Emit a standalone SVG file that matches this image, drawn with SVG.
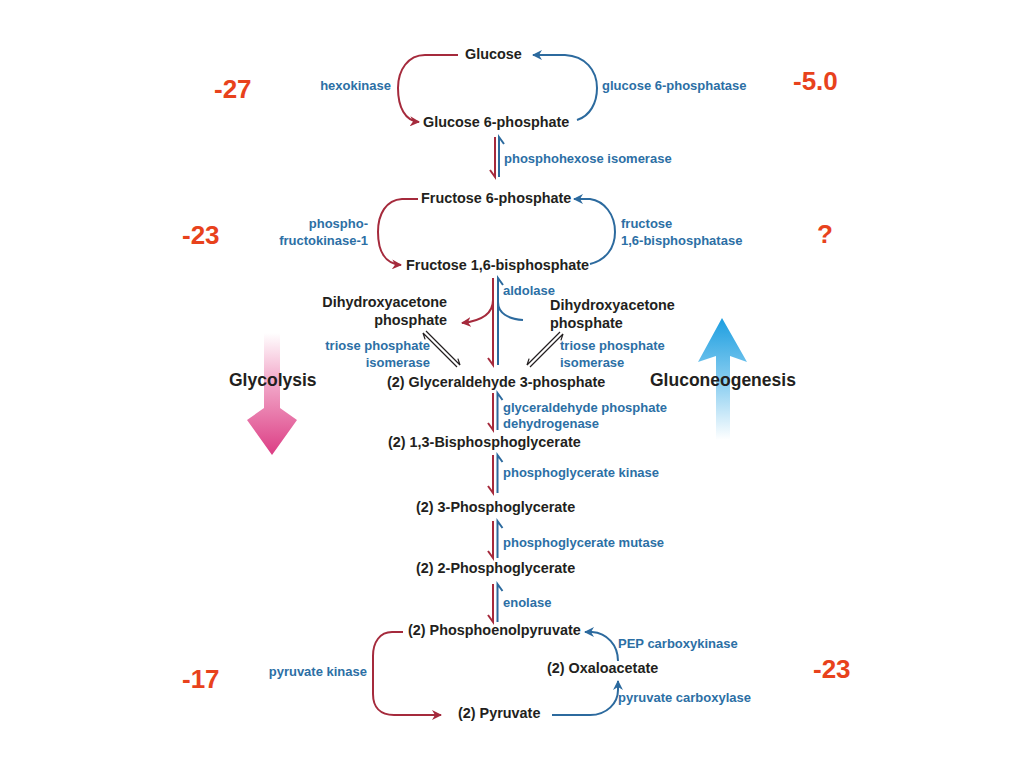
<svg xmlns="http://www.w3.org/2000/svg" width="1024" height="768" viewBox="0 0 1024 768">
<defs>
<style>
.m{font-family:"Liberation Sans",Arial,sans-serif;font-weight:bold;font-size:14.4px;fill:#231f20}
.e{font-family:"Liberation Sans",Arial,sans-serif;font-weight:bold;font-size:13px;fill:#2c6fa5}
.n{font-family:"Liberation Sans",Arial,sans-serif;font-weight:bold;font-size:26px;fill:#e8421c}
.big{font-family:"Liberation Sans",Arial,sans-serif;font-weight:bold;font-size:17.5px;fill:#231f20}
.r{fill:none;stroke:#a52a3c;stroke-width:2}
.b{fill:none;stroke:#2c6a9e;stroke-width:2}
.k{fill:none;stroke:#231f20;stroke-width:1.2}
</style>
<marker id="ar" viewBox="0 0 10 10" refX="9" refY="5" markerWidth="10" markerHeight="10" markerUnits="userSpaceOnUse" orient="auto">
<path d="M0,0 L10,5 L0,10 L3,5 z" fill="#a52a3c"/>
</marker>
<marker id="ab" viewBox="0 0 10 10" refX="9" refY="5" markerWidth="10" markerHeight="10" markerUnits="userSpaceOnUse" orient="auto">
<path d="M0,0 L10,5 L0,10 L3,5 z" fill="#2c6a9e"/>
</marker>
<linearGradient id="gp" gradientUnits="userSpaceOnUse" x1="0" y1="333" x2="0" y2="455">
<stop offset="0" stop-color="#ffffff"/>
<stop offset="0.35" stop-color="#f4b3d0"/>
<stop offset="1" stop-color="#dc3d84"/>
</linearGradient>
<linearGradient id="gb" gradientUnits="userSpaceOnUse" x1="0" y1="440" x2="0" y2="318">
<stop offset="0" stop-color="#ffffff"/>
<stop offset="0.45" stop-color="#8fd0f1"/>
<stop offset="1" stop-color="#1c9ee0"/>
</linearGradient>
</defs>
<rect width="1024" height="768" fill="#ffffff"/>

<g id="direction-arrows">
<path id="glycolysis-arrow" d="M264,333 L280,333 L280,408 L297,420 L272,455 L247,420 L264,408 Z" fill="url(#gp)"/>
<path id="gluconeogenesis-arrow" d="M716,440 L716,356 L698,362 L722,318 L747,362 L730,356 L730,440 Z" fill="url(#gb)"/>
</g>

<g id="connectors">
<!-- top loop -->
<path class="r" d="M458,55 L425,55 C408,55 398,70 398,88 C398,107 405,121 419,122" marker-end="url(#ar)"/>
<path class="b" d="M577,120 C590,116 597,103 597,88 C597,70 585,56 565,55 L533,55" marker-end="url(#ab)"/>
<!-- hexose isomerase -->
<path class="r" d="M495,137 L495,177 L490,170"/>
<path class="b" d="M499,177 L499,137 L504,144"/>
<!-- fructose loop -->
<path class="r" d="M418,199 L402,199 C386,200 378,214 378,232 C378,251 385,264 401,265" marker-end="url(#ar)"/>
<path class="b" d="M590,264 C606,260 615,248 615,232 C615,214 604,201 590,199 L574,199" marker-end="url(#ab)"/>
<!-- aldolase -->
<path class="r" d="M493,278 L493,365 L488,358"/>
<path class="b" d="M498,365 L498,278 L503,285"/>
<path class="r" d="M493,300 C493,314 481,321 462,323" marker-end="url(#ar)"/>
<path class="b" d="M498,302 C498,313 508,319 523,320"/>
<!-- triose phosphate isomerase -->
<path class="k" d="M426,331 L460,365 L457.9,358.6"/>
<path class="k" d="M457,367 L423,333 L425.1,339.4"/>
<path class="k" d="M560,332 L527,365 L529.1,358.6"/>
<path class="k" d="M530,367 L563,334 L560.9,340.4"/>
<!-- lower chain -->
<path class="r" d="M493,393 L493,430 L488,423"/>
<path class="b" d="M497.5,430 L497.5,393 L502.5,400"/>
<path class="r" d="M493,455 L493,493 L488,486"/>
<path class="b" d="M497.5,493 L497.5,455 L502.5,462"/>
<path class="r" d="M493,521 L493,558 L488,551"/>
<path class="b" d="M497.5,558 L497.5,521 L502.5,528"/>
<path class="r" d="M493,584 L493,622 L488,615"/>
<path class="b" d="M497.5,622 L497.5,584 L502.5,591"/>
<!-- pyruvate loop -->
<path class="r" d="M403,632 L392,632 C380,632 373,642 373,656 L373,694 C373,707 380,715 394,715 L441,715" marker-end="url(#ar)"/>
<path class="b" d="M552,715 L590,715 C607,715 618,703 618,690 L618,681" marker-end="url(#ab)"/>
<path class="b" d="M618,661 C618,645 607,633 592,632 L585,632" marker-end="url(#ab)"/>
</g>

<g id="node-glucose"><text class="m" x="465" y="59">Glucose</text></g>
<g id="node-g6p"><text class="m" x="423" y="127">Glucose 6-phosphate</text></g>
<g id="node-f6p"><text class="m" x="421" y="203">Fructose 6-phosphate</text></g>
<g id="node-f16bp"><text class="m" x="406" y="270">Fructose 1,6-bisphosphate</text></g>
<g id="node-dhap-left"><text class="m" x="447" y="307" text-anchor="end">Dihydroxyacetone</text><text class="m" x="447" y="325" text-anchor="end">phosphate</text></g>
<g id="node-dhap-right"><text class="m" x="550" y="310">Dihydroxyacetone</text><text class="m" x="550" y="328">phosphate</text></g>
<g id="node-gap"><text class="m" x="387" y="387">(2) Glyceraldehyde 3-phosphate</text></g>
<g id="node-13bpg"><text class="m" x="388" y="447">(2) 1,3-Bisphosphoglycerate</text></g>
<g id="node-3pg"><text class="m" x="416" y="512">(2) 3-Phosphoglycerate</text></g>
<g id="node-2pg"><text class="m" x="416" y="573">(2) 2-Phosphoglycerate</text></g>
<g id="node-pep"><text class="m" x="408" y="635">(2) Phosphoenolpyruvate</text></g>
<g id="node-oaa"><text class="m" x="547" y="673">(2) Oxaloacetate</text></g>
<g id="node-pyruvate"><text class="m" x="458" y="718">(2) Pyruvate</text></g>

<g id="enzymes">
<text class="e" x="391" y="90" text-anchor="end">hexokinase</text>
<text class="e" x="602" y="90">glucose 6-phosphatase</text>
<text class="e" x="504" y="163">phosphohexose isomerase</text>
<text class="e" x="368" y="228" text-anchor="end">phospho-</text>
<text class="e" x="368" y="245" text-anchor="end">fructokinase-1</text>
<text class="e" x="621" y="228">fructose</text>
<text class="e" x="621" y="245">1,6-bisphosphatase</text>
<text class="e" x="503" y="295">aldolase</text>
<text class="e" x="430" y="350" text-anchor="end">triose phosphate</text>
<text class="e" x="430" y="367" text-anchor="end">isomerase</text>
<text class="e" x="560" y="350">triose phosphate</text>
<text class="e" x="560" y="367">isomerase</text>
<text class="e" x="503" y="412">glyceraldehyde phosphate</text>
<text class="e" x="503" y="428">dehydrogenase</text>
<text class="e" x="503" y="477">phosphoglycerate kinase</text>
<text class="e" x="503" y="547">phosphoglycerate mutase</text>
<text class="e" x="503" y="607">enolase</text>
<text class="e" x="618" y="648">PEP carboxykinase</text>
<text class="e" x="367" y="676" text-anchor="end">pyruvate kinase</text>
<text class="e" x="618" y="702">pyruvate carboxylase</text>
</g>

<g id="pathway-labels">
<text class="big" x="229" y="386">Glycolysis</text>
<text class="big" x="650" y="386">Gluconeogenesis</text>
</g>

<g id="energies">
<text class="n" x="214" y="98">-27</text>
<text class="n" x="793" y="90">-5.0</text>
<text class="n" x="182" y="244">-23</text>
<text class="n" x="817" y="243">?</text>
<text class="n" x="182" y="688">-17</text>
<text class="n" x="813" y="678">-23</text>
</g>
</svg>
